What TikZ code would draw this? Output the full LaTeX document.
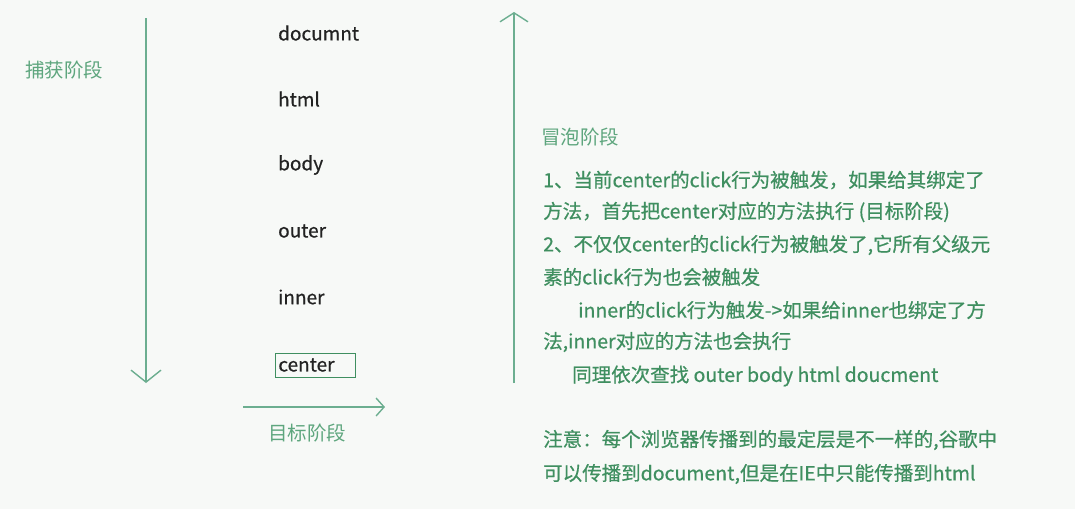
\documentclass[tikz,border=0pt]{standalone}
\usepackage{fontspec}
\setmainfont{Noto Sans CJK SC}
\newfontfamily\notefont[FakeBold=0.6]{Noto Sans CJK SC}
\usetikzlibrary{positioning,calc,arrows.meta}
\definecolor{bgcol}{HTML}{F7F9F7}
\definecolor{linecol}{HTML}{6CAE90}
\definecolor{txtgreen}{HTML}{3F8F60}
\definecolor{lblgreen}{HTML}{5EA67E}
\definecolor{elemcol}{HTML}{222222}

\begin{document}
\begin{tikzpicture}[
    x=1pt, y=-1pt,
    phase/.style={text=lblgreen, font=\fontsize{19.5}{22}\selectfont, inner sep=0pt},
    elem/.style={anchor=west, text=elemcol, font=\notefont\fontsize{19}{22}\selectfont, inner sep=0pt},
    note/.style={anchor=west, text=txtgreen, font=\notefont\fontsize{19.5}{22}\selectfont, inner sep=0pt},
    flow/.style={draw=linecol, line width=1.4pt, -{Straight Barb[length=12pt, width=30pt, line width=1.4pt]}}
]

% Background and size
\fill[bgcol] (0,0) rectangle (1075,509);
\useasboundingbox (0,0) rectangle (1075,509);

% Capture phase
\node[phase, anchor=west] (capture) at (25,70) {捕获阶段};
\coordinate (captop) at (146,18);
\coordinate (capbot) at (146,383);
\draw[flow] (captop) -- (capbot);

% Element chain
\node[elem] (document) at (278,33) {documnt};
\node[elem] (html) at (278,99) {html};
\node[elem] (body) at (278,165) {body};
\node[elem] (outer) at (278,231) {outer};
\node[elem] (inner) at (278,297) {inner};
\node[elem, draw=txtgreen, line width=0.8pt, inner xsep=3pt, minimum height=24pt, text width=74pt, align=left] (center) at (275,365) {center};

% Target phase
\coordinate (tgtleft) at (243,407);
\coordinate (tgtright) at (385,407);
\draw[flow, -{Straight Barb[length=8pt, width=18pt, line width=1.4pt]}] (tgtleft) -- (tgtright);
\node[phase, anchor=west] (target) at (268,433) {目标阶段};

% Bubble phase
\coordinate (bubbot) at (514,383);
\coordinate (bubtop) at (514,12);
\draw[flow, -{Straight Barb[length=9pt, width=28pt, line width=1.4pt]}] (bubbot) -- (bubtop);
\node[phase, anchor=west] (bubble) at (541,137) {冒泡阶段};

% Notes
\node[note] (line1) at (543,180) {1、当前center的click行为被触发，如果给其绑定了};
\node[note] (line2) at (543,212) {方法，首先把center对应的方法执行 (目标阶段)};
\node[note] (line3) at (543,245) {2、不仅仅center的click行为被触发了,它所有父级元};
\node[note] (line4) at (543,277) {素的click行为也会被触发};
\node[note] (line5) at (578,310) {inner的click行为触发->如果给inner也绑定了方};
\node[note] (line6) at (543,342) {法,inner对应的方法也会执行};
\node[note] (line7) at (572,376) {同理依次查找 outer body html doucment};
\node[note] (line8) at (543,440) {注意：每个浏览器传播到的最定层是不一样的,谷歌中};
\node[note] (line9) at (543,474) {可以传播到document,但是在IE中只能传播到html};

\end{tikzpicture}
\end{document}
